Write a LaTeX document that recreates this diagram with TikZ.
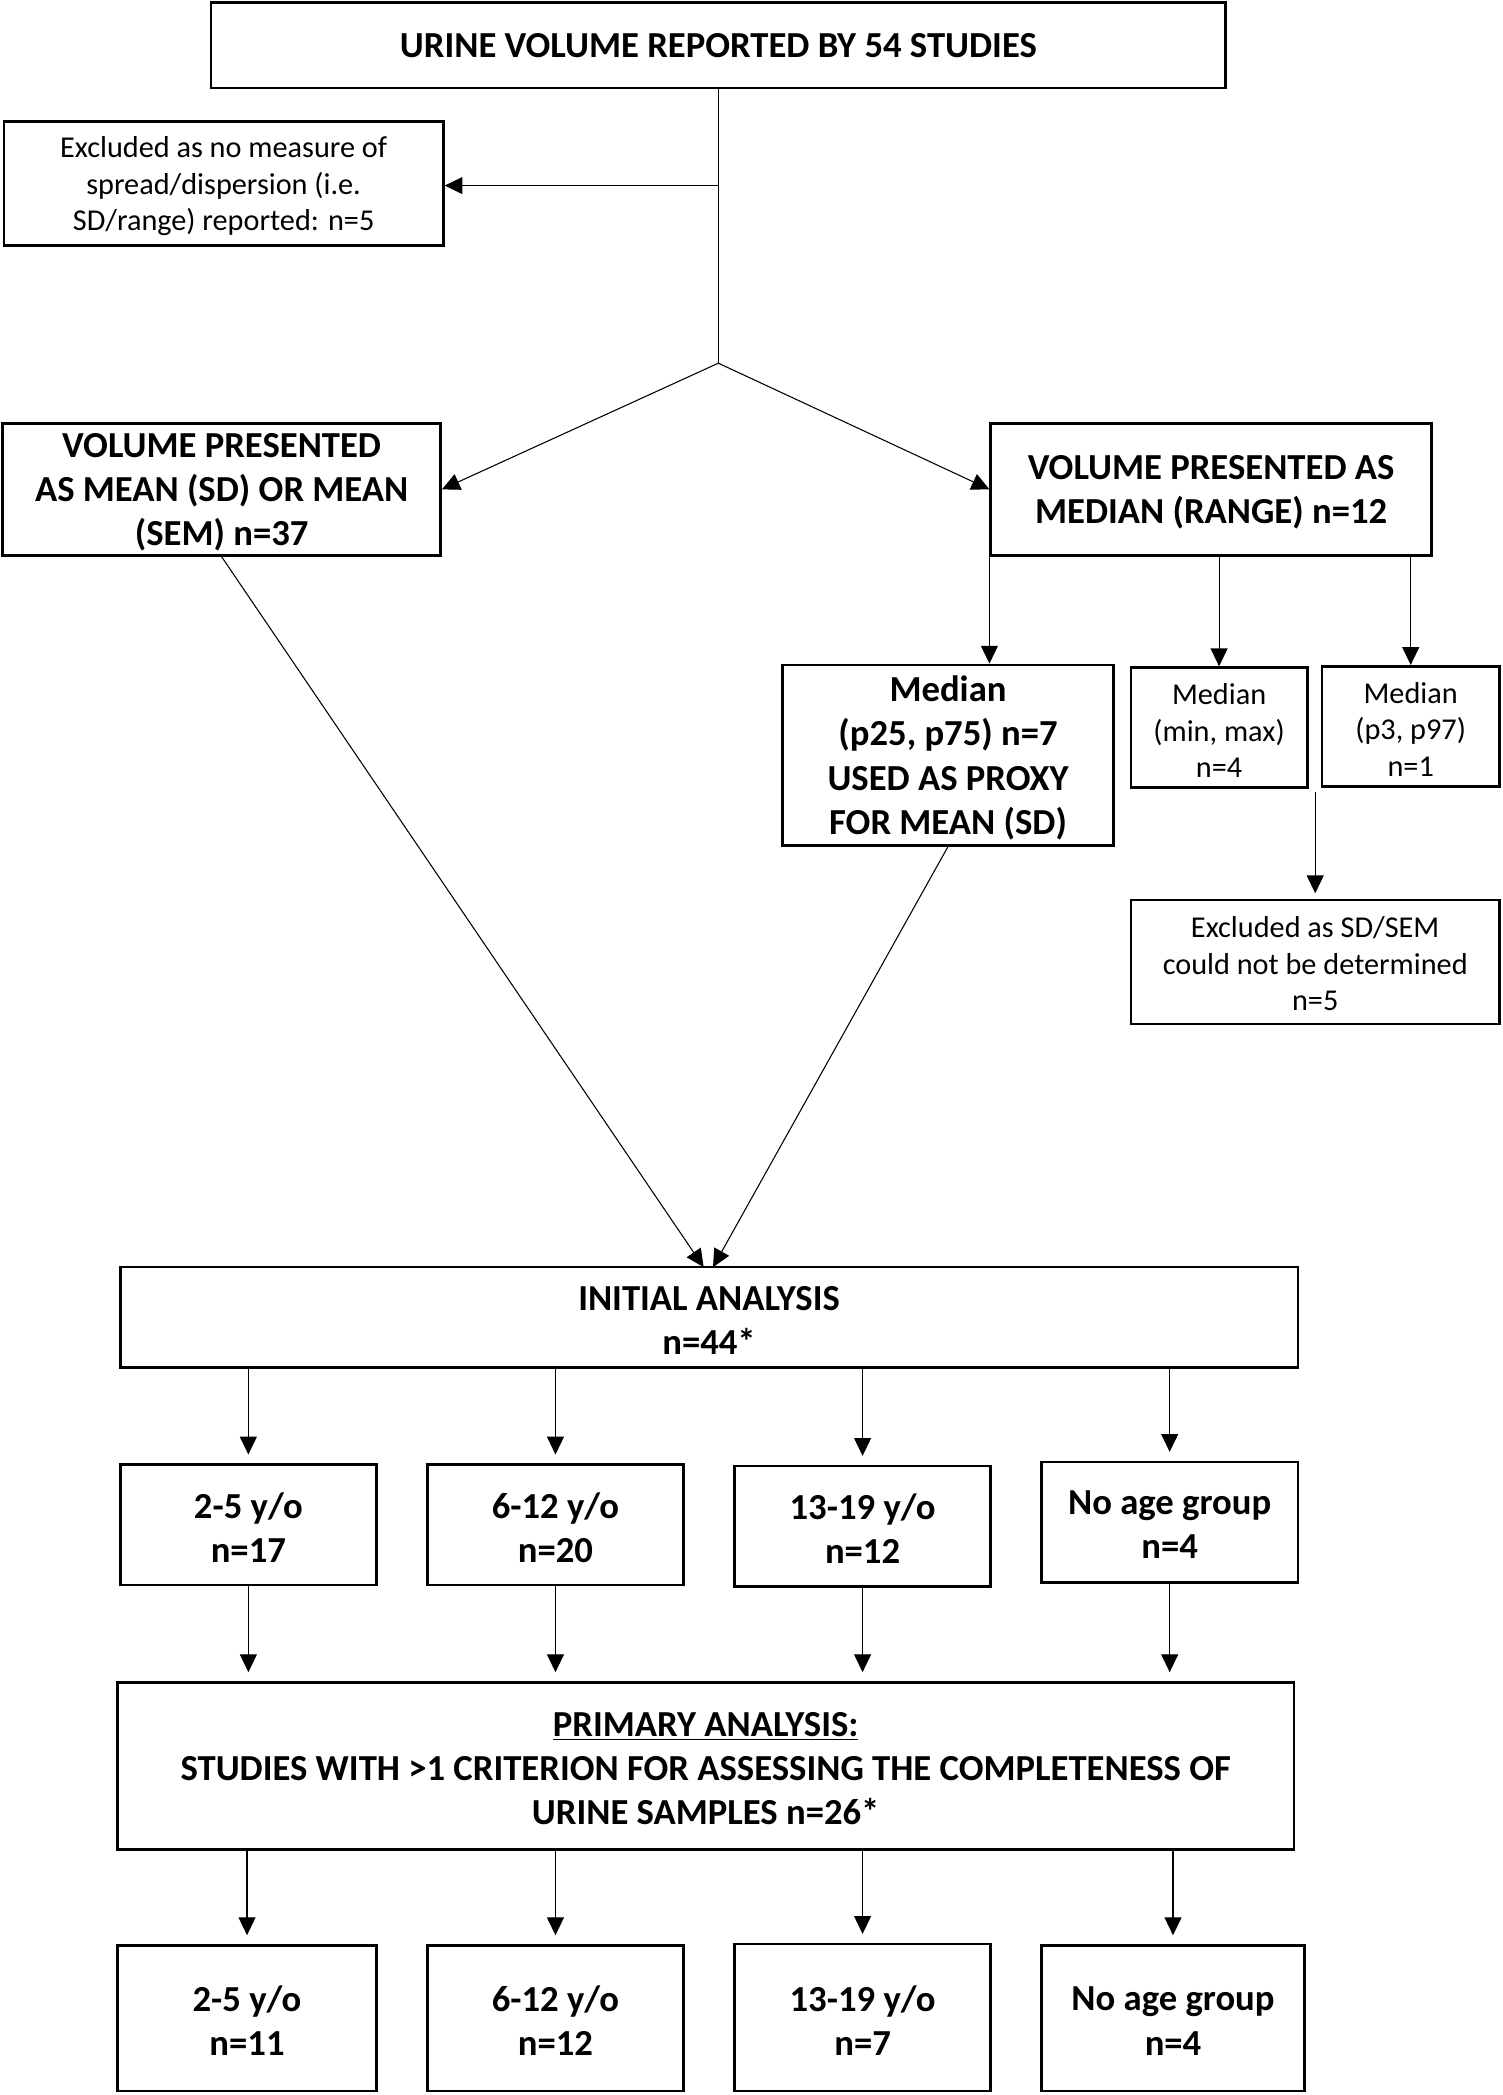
\documentclass[tikz,border=0pt]{standalone}
\usepackage{fontspec}
\setmainfont{Carlito}
\usetikzlibrary{arrows.meta}
\tikzset{
  box/.style={draw, line width=1.5pt, inner sep=0pt},
  rt/.style={align=center, inner sep=0pt, yshift=-1.6pt,
    font=\fontsize{17}{20.5}\selectfont},
  bt/.style={align=center, inner sep=0pt, yshift=-1.6pt,
    font=\bfseries\fontsize{20.6}{24.75}\selectfont},
  conn/.style={line width=0.6pt},
  arr/.style={conn, -{Triangle[length=10pt,width=9.5pt]}},
}
\begin{document}
\begin{tikzpicture}[x=0.75pt,y=-0.75pt]
\useasboundingbox (0,0) rectangle (1125,1569);
% boxes
\node[box, minimum width=570pt, minimum height=48pt, label={[bt, yshift=1.6pt]center:{URINE VOLUME REPORTED BY 54 STUDIES}}] (top) at (538,34) {};
\node[box, minimum width=246.75pt, minimum height=69.75pt, label={[rt]center:{Excluded as no measure of\\spread/dispersion (i.e.\\SD/range) reported: n=5}}] (excl1) at (167.5,137.5) {};
\node[box, minimum width=246pt, minimum height=74.25pt, label={[bt]center:{VOLUME PRESENTED\\AS MEAN (SD) OR MEAN\\(SEM) n=37}}] (mean) at (166,366.5) {};
\node[box, minimum width=247.5pt, minimum height=74.25pt, label={[bt]center:{VOLUME PRESENTED AS\\MEDIAN (RANGE) n=12}}] (median) at (907,366.5) {};
\node[box, minimum width=186pt, minimum height=101.25pt, label={[bt]center:{Median\\(p25, p75) n=7\\USED AS PROXY\\FOR MEAN (SD)}}] (p25) at (710,565.5) {};
\node[box, minimum width=99pt, minimum height=67.5pt, label={[rt]center:{Median\\(min, max)\\n=4}}] (minmax) at (913,545) {};
\node[box, minimum width=99.75pt, minimum height=67.5pt, label={[rt]center:{Median\\(p3, p97)\\n=1}}] (p3) at (1056.5,544) {};
\node[box, minimum width=207pt, minimum height=69.75pt, label={[rt, yshift=0.6pt]center:{Excluded as SD/SEM\\could not be determined\\n=5}}] (excl2) at (985,720.5) {};
\node[box, minimum width=661.5pt, minimum height=56.25pt, label={[bt]center:{INITIAL ANALYSIS\\n=44*}}] (init) at (531,986.5) {};
\node[box, minimum width=144pt, minimum height=67.5pt, label={[bt]center:{2-5 y/o\\n=17}}] (a1) at (186,1142) {};
\node[box, minimum width=144pt, minimum height=67.5pt, label={[bt]center:{6-12 y/o\\n=20}}] (b1) at (416,1142) {};
\node[box, minimum width=144pt, minimum height=67.5pt, label={[bt]center:{13-19 y/o\\n=12}}] (c1) at (646,1143) {};
\node[box, minimum width=144pt, minimum height=67.5pt, label={[bt]center:{No age group\\n=4}}] (d1) at (876,1140) {};
\node[box, minimum width=660.75pt, minimum height=93.75pt, label={[bt]center:{\underline{PRIMARY ANALYSIS:}\\STUDIES WITH >1 CRITERION FOR ASSESSING THE COMPLETENESS OF\\URINE SAMPLES n=26*}}] (prim) at (528.5,1322.5) {};
\node[box, minimum width=145.5pt, minimum height=81.75pt, label={[bt]center:{2-5 y/o\\n=11}}] (a2) at (185,1511.5) {};
\node[box, minimum width=144pt, minimum height=81.75pt, label={[bt]center:{6-12 y/o\\n=12}}] (b2) at (416,1511.5) {};
\node[box, minimum width=144pt, minimum height=82.5pt, label={[bt]center:{13-19 y/o\\n=7}}] (c2) at (646,1511) {};
\node[box, minimum width=147.75pt, minimum height=81.75pt, label={[bt]center:{No age group\\n=4}}] (d2) at (878.5,1511.5) {};
% connectors
\coordinate (apex) at (538,272);
\coordinate (j1) at (538,139);
\coordinate (m2) at (985,593);
\coordinate (t1) at (527,949);
\coordinate (t2) at (534,949);
\draw[conn] (top.south) -- (apex);
\draw[arr] (j1) -- (j1 -| excl1.east);
\draw[arr] (apex) -- (mean.east);
\draw[arr] (apex) -- (median.west);
\draw[arr] (median.south west) -- (median.south west |- p25.north);
\draw[arr] (median.south -| minmax.north) -- (minmax.north);
\draw[arr] (median.south -| p3.north) -- (p3.north);
\draw[arr, shorten >=3pt] (m2) -- (excl2.north);
\draw[arr] (mean.south) -- (t1);
\draw[arr] (p25.south) -- (t2);
\foreach \n in {a1,b1,c1,d1} {
  \draw[arr, shorten >=5pt] (\n.north |- init.south) -- (\n.north);
}
\foreach \n in {a1,b1,c1,d1} {
  \draw[arr, shorten >=5pt] (\n.south) -- (\n.south |- prim.north);
}
\foreach \n in {a2,b2,c2,d2} {
  \draw[arr, shorten >=5pt] (\n.north |- prim.south) -- (\n.north);
}
\end{tikzpicture}
\end{document}
